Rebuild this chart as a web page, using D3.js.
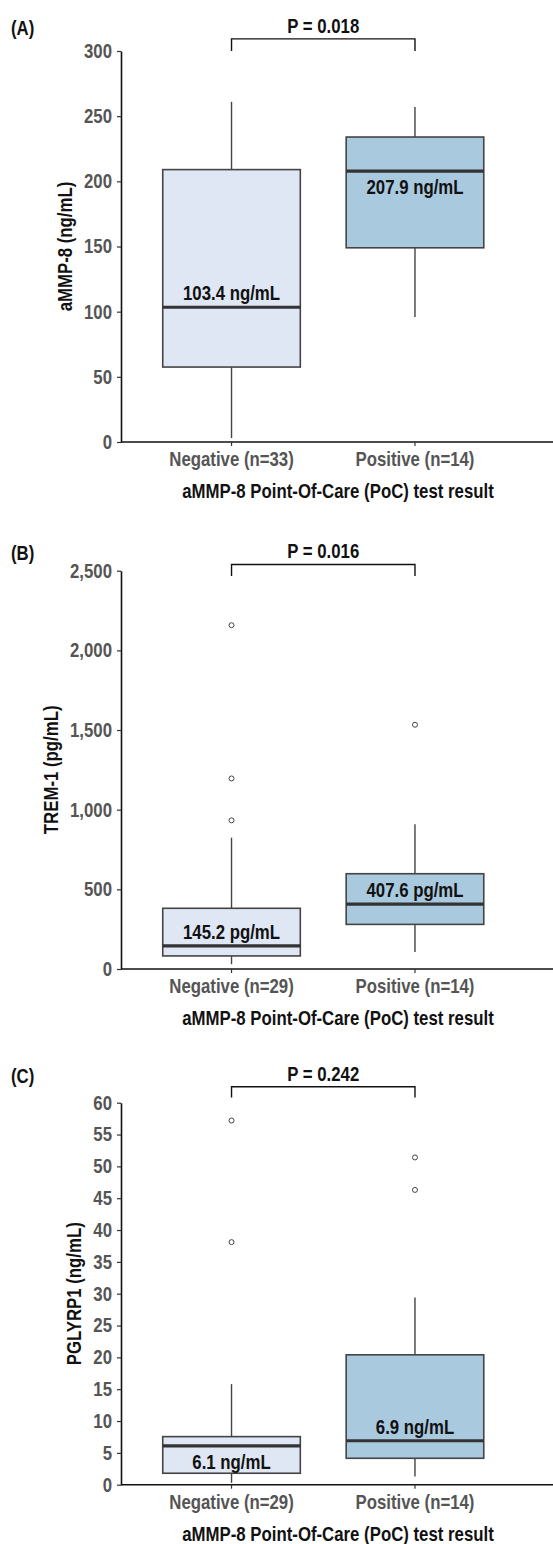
<!DOCTYPE html>
<html>
<head>
<meta charset="utf-8">
<script src="https://cdn.jsdelivr.net/npm/d3@7"></script>
<style>
  body { margin: 0; background: #fff; }
  svg text { font-family: "Liberation Sans Narrow", "Liberation Sans", Arial, sans-serif; font-weight: bold; font-size: 20px; }
</style>
</head>
<body>
<div id="vis"></div>
<script>
// panels and groups
var panelTags = ['(A)', '(B)', '(C)'];
var groups = ['Negative', 'Positive'];
var nCounts = [[33, 14], [29, 14], [29, 14]];
var yTitles = ['aMMP-8 (ng/mL)', 'TREM-1 (pg/mL)', 'PGLYRP1 (ng/mL)'];
var units = ['ng/mL', 'pg/mL', 'ng/mL'];
var pValues = ['0.018', '0.016', '0.242'];
var xTitle = 'aMMP-8 Point-Of-Care (PoC) test result';

// y axis domains and tick steps
var yMax = [300, 2500, 60];
var yStep = [50, 500, 5];

// box stats: [lower whisker, q1, median, q3, upper whisker]
var statsA = [[3, 57.5, 103.4, 209, 261], [96, 149, 207.9, 234, 257]];
var statsB = [[30, 82, 145.2, 381, 824], [107, 280, 407.6, 598, 908]];
var statsC = [[0.3, 1.8, 6.1, 7.55, 15.8], [1.3, 4.15, 6.9, 20.4, 29.4]];

var outliersA = [[], []];
var outliersB = [[2158, 1196, 933], [1533]];
var outliersC = [[57.2, 38.1], [51.4, 46.3]];

// significance bracket levels (data units): [tip, bar]
var bracketA = [300, 309.3];
var bracketB = [2466, 2539];
var bracketC = [60.8, 62.5];

// where the median label sits
var labelSide = [['above', 'below'], ['above', 'above'], ['below', 'above']];

var width = 553;
var height = 1544;
var fills = ['#dfe7f4', '#a9c9df'];
var squeeze = 0.84; // no narrow face installed, so squash the text

// pixel layout of each panel's y range
var layout = [
  { top: 51, bottom: 442 },
  { top: 570.7, bottom: 969 },
  { top: 1102.7, bottom: 1484.7 }
];
var axisX = 121;

var svg = d3.select('#vis').append('svg')
  .attr('width', width)
  .attr('height', height);

var allStats = [statsA, statsB, statsC];
var allOut = [outliersA, outliersB, outliersC];
var allBrackets = [bracketA, bracketB, bracketC];

var x = d3.scaleBand()
  .domain(groups)
  .range([axisX, 525.5])
  .paddingInner(0.25)
  .paddingOuter(0.2275);

// move x/y into a transform so the glyphs can be squeezed sideways
function narrow(sel, rot) {
  sel.each(function () {
    var t = d3.select(this);
    var tx = +t.attr('x') || 0;
    var ty = +t.attr('y') || 0;
    t.attr('x', 0).attr('y', 0)
      .attr('transform', 'translate(' + tx + ',' + ty + ')' + (rot ? ' rotate(' + rot + ')' : '') + ' scale(' + squeeze + ',1)');
  });
  return sel;
}

function drawPanel(i) {
  var lay = layout[i];
  var y = d3.scaleLinear().domain([0, yMax[i]]).range([lay.bottom, lay.top]);
  var g = svg.append('g');
  var ticks = d3.range(0, yMax[i] + yStep[i] / 2, yStep[i]);

  // y axis
  var yAxis = g.append('g')
    .attr('transform', 'translate(' + axisX + ',0)')
    .call(d3.axisLeft(y).tickValues(ticks).tickSize(4).tickSizeOuter(0).tickPadding(5)
      .tickFormat(d3.format(',')));
  yAxis.attr('font-size', null).attr('font-family', null);
  yAxis.select('.domain').attr('stroke', '#111').attr('stroke-width', 1.6);
  yAxis.selectAll('.tick line').attr('stroke', '#333').attr('stroke-width', 1.2);
  narrow(yAxis.selectAll('.tick text').attr('fill', '#555'));

  // x axis line
  g.append('line')
    .attr('x1', axisX).attr('x2', width)
    .attr('y1', lay.bottom).attr('y2', lay.bottom)
    .attr('stroke', '#111').attr('stroke-width', 1.6);

  var xAxis = g.append('g')
    .attr('transform', 'translate(0,' + lay.bottom + ')')
    .call(d3.axisBottom(x).tickSize(4).tickPadding(6)
      .tickFormat(function (d, j) { return d + ' (n=' + nCounts[i][j] + ')'; }));
  xAxis.attr('font-size', null).attr('font-family', null);
  xAxis.select('.domain').remove();
  xAxis.selectAll('.tick line').attr('stroke', '#333').attr('stroke-width', 1.2);
  narrow(xAxis.selectAll('.tick text').attr('fill', '#555'));

  // axis titles
  narrow(g.append('text')
    .attr('x', (axisX + width) / 2 + 1)
    .attr('y', lay.bottom + 56)
    .attr('text-anchor', 'middle')
    .attr('fill', '#111')
    .text(xTitle));

  var maxW = d3.max(yAxis.selectAll('.tick text').nodes(), function (n) {
    return n.getComputedTextLength();
  });
  var titleX = axisX - 9 - maxW * squeeze - 19;
  narrow(g.append('text')
    .attr('x', titleX)
    .attr('y', (lay.top + lay.bottom) / 2)
    .attr('text-anchor', 'middle')
    .attr('dy', '0.35em')
    .attr('fill', '#111')
    .text(yTitles[i]), -90);

  // boxes
  var stats = allStats[i];
  var bw = x.bandwidth();
  groups.forEach(function (grp, j) {
    var s = stats[j];
    var cx = x(grp) + bw / 2;
    var bg = g.append('g');
    bg.append('line')
      .attr('x1', cx).attr('x2', cx)
      .attr('y1', y(s[0])).attr('y2', y(s[1]))
      .attr('stroke', '#444').attr('stroke-width', 1.4);
    bg.append('line')
      .attr('x1', cx).attr('x2', cx)
      .attr('y1', y(s[3])).attr('y2', y(s[4]))
      .attr('stroke', '#444').attr('stroke-width', 1.4);
    bg.append('rect')
      .attr('x', x(grp)).attr('width', bw)
      .attr('y', y(s[3])).attr('height', y(s[1]) - y(s[3]))
      .attr('fill', fills[j])
      .attr('stroke', '#444').attr('stroke-width', 1.6);
    bg.append('line')
      .attr('x1', x(grp)).attr('x2', x(grp) + bw)
      .attr('y1', y(s[2])).attr('y2', y(s[2]))
      .attr('stroke', '#333').attr('stroke-width', 3.2);

    bg.selectAll('circle.out')
      .data(allOut[i][j])
      .enter().append('circle')
      .attr('class', 'out')
      .attr('cx', cx)
      .attr('cy', function (d) { return y(d); })
      .attr('r', 2.5)
      .attr('fill', 'none')
      .attr('stroke', '#444')
      .attr('stroke-width', 1);

    var above = labelSide[i][j] === 'above';
    narrow(bg.append('text')
      .attr('x', cx)
      .attr('y', y(s[2]) + (above ? -7 : 23))
      .attr('text-anchor', 'middle')
      .attr('fill', '#111')
      .text(s[2].toFixed(1) + ' ' + units[i]));
  });

  // significance bracket
  var br = allBrackets[i];
  var x1 = x(groups[0]) + bw / 2;
  var x2 = x(groups[1]) + bw / 2;
  g.append('path')
    .attr('d', 'M' + x1 + ',' + y(br[0]) + 'V' + y(br[1]) + 'H' + x2 + 'V' + y(br[0]))
    .attr('fill', 'none')
    .attr('stroke', '#111')
    .attr('stroke-width', 1.4);
  narrow(g.append('text')
    .attr('x', (x1 + x2) / 2)
    .attr('y', y(br[1]) - 6)
    .attr('text-anchor', 'middle')
    .attr('fill', '#111')
    .text('P = ' + pValues[i]));

  narrow(g.append('text')
    .attr('x', 11)
    .attr('y', y(br[1]) - 4)
    .attr('fill', '#111')
    .text(panelTags[i]));
}

[0, 1, 2].forEach(drawPanel);
</script>
</body>
</html>
